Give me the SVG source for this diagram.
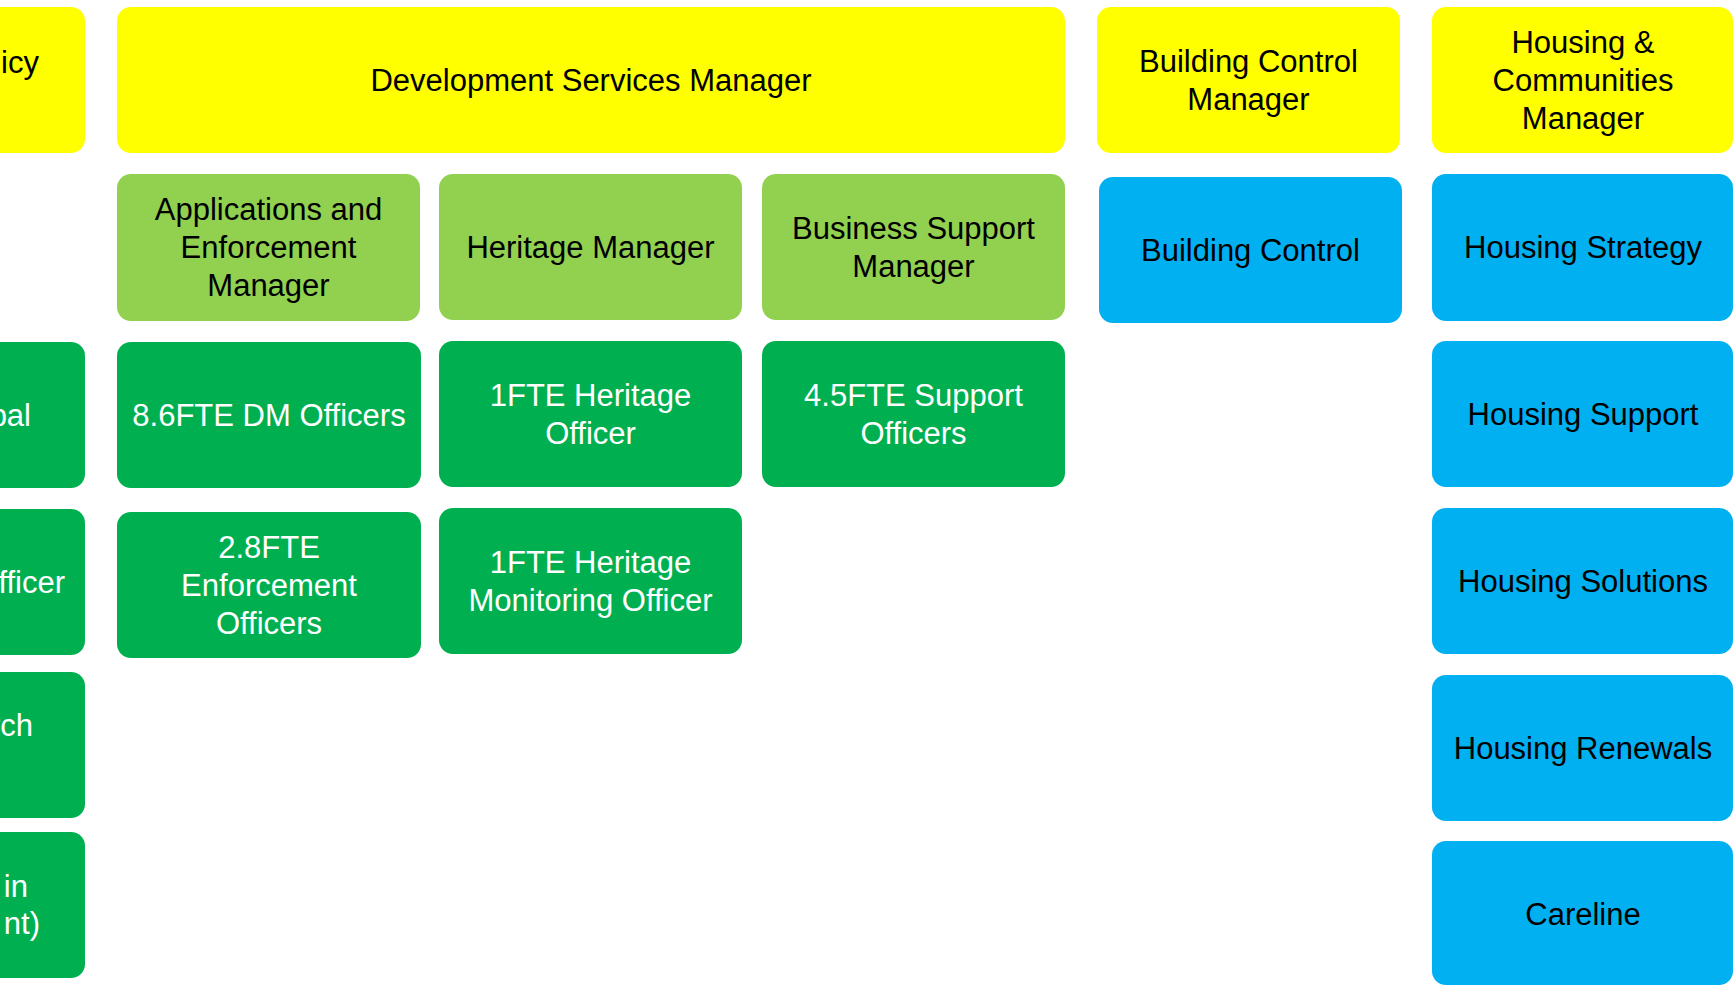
<svg xmlns="http://www.w3.org/2000/svg" width="1734" height="986" viewBox="0 0 1734 986">
<style>
.y{fill:#FFFF00}
.lg{fill:#92D050}
.dg{fill:#00B050}
.b{fill:#00B0F0}
text{font-family:"Liberation Sans",Arial,sans-serif;font-size:31px;text-anchor:middle;dominant-baseline:central}
.k{fill:#000}
.w{fill:#fff}
.e{text-anchor:end}
</style>
<rect width="1734" height="986" fill="#fff"/>
<g id="connectors"></g>
<g id="policy-manager"><rect class="y" x="-30" y="7" width="115" height="146" rx="14"/><text class="k e" x="39" y="62">icy</text></g>
<g id="dev-services-manager"><rect class="y" x="117" y="7" width="948" height="146" rx="14"/><text class="k" x="591" y="80">Development Services Manager</text></g>
<g id="building-control-manager"><rect class="y" x="1097" y="7" width="303" height="146" rx="14"/><text class="k" x="1248.5" y="61">Building Control</text><text class="k" x="1248.5" y="99">Manager</text></g>
<g id="housing-communities-manager"><rect class="y" x="1432" y="7" width="301" height="146" rx="14"/><text class="k" x="1583" y="42">Housing &amp;</text><text class="k" x="1583" y="80">Communities</text><text class="k" x="1583" y="118">Manager</text></g>

<g id="applications-enforcement-manager"><rect class="lg" x="117" y="174" width="303" height="147" rx="14"/><text class="k" x="268.5" y="209.5">Applications and</text><text class="k" x="268.5" y="247.5">Enforcement</text><text class="k" x="268.5" y="285.5">Manager</text></g>
<g id="heritage-manager"><rect class="lg" x="439" y="174" width="303" height="146" rx="14"/><text class="k" x="590.5" y="247">Heritage Manager</text></g>
<g id="business-support-manager"><rect class="lg" x="762" y="174" width="303" height="146" rx="14"/><text class="k" x="913.5" y="228">Business Support</text><text class="k" x="913.5" y="266">Manager</text></g>
<g id="building-control"><rect class="b" x="1099" y="177" width="303" height="146" rx="14"/><text class="k" x="1250.5" y="250">Building Control</text></g>
<g id="housing-strategy"><rect class="b" x="1432" y="174" width="301" height="147" rx="14"/><text class="k" x="1583" y="247.5">Housing Strategy</text></g>

<g id="left-officer-1"><rect class="dg" x="-30" y="342" width="115" height="146" rx="14"/><text class="w e" x="31" y="415">bal</text></g>
<g id="left-officer-2"><rect class="dg" x="-30" y="509" width="115" height="146" rx="14"/><text class="w e" x="65" y="582">fficer</text></g>
<g id="left-officer-3"><rect class="dg" x="-30" y="672" width="115" height="146" rx="14"/><text class="w e" x="33" y="725">rch</text></g>
<g id="left-officer-4"><rect class="dg" x="-30" y="832" width="115" height="146" rx="14"/><text class="w e" x="28" y="886">in</text><text class="w e" x="40" y="923">nt)</text></g>

<g id="dm-officers"><rect class="dg" x="117" y="342" width="304" height="146" rx="14"/><text class="w" x="269" y="415">8.6FTE DM Officers</text></g>
<g id="heritage-officer"><rect class="dg" x="439" y="341" width="303" height="146" rx="14"/><text class="w" x="590.5" y="395">1FTE Heritage</text><text class="w" x="590.5" y="433">Officer</text></g>
<g id="support-officers"><rect class="dg" x="762" y="341" width="303" height="146" rx="14"/><text class="w" x="913.5" y="395">4.5FTE Support</text><text class="w" x="913.5" y="433">Officers</text></g>
<g id="enforcement-officers"><rect class="dg" x="117" y="512" width="304" height="146" rx="14"/><text class="w" x="269" y="547">2.8FTE</text><text class="w" x="269" y="585">Enforcement</text><text class="w" x="269" y="623">Officers</text></g>
<g id="heritage-monitoring-officer"><rect class="dg" x="439" y="508" width="303" height="146" rx="14"/><text class="w" x="590.5" y="562">1FTE Heritage</text><text class="w" x="590.5" y="600">Monitoring Officer</text></g>

<g id="housing-support"><rect class="b" x="1432" y="341" width="301" height="146" rx="14"/><text class="k" x="1583" y="414">Housing Support</text></g>
<g id="housing-solutions"><rect class="b" x="1432" y="508" width="301" height="146" rx="14"/><text class="k" x="1583" y="581">Housing Solutions</text></g>
<g id="housing-renewals"><rect class="b" x="1432" y="675" width="301" height="146" rx="14"/><text class="k" x="1583" y="748">Housing Renewals</text></g>
<g id="careline"><rect class="b" x="1432" y="841" width="301" height="144" rx="14"/><text class="k" x="1583" y="914">Careline</text></g>
</svg>
